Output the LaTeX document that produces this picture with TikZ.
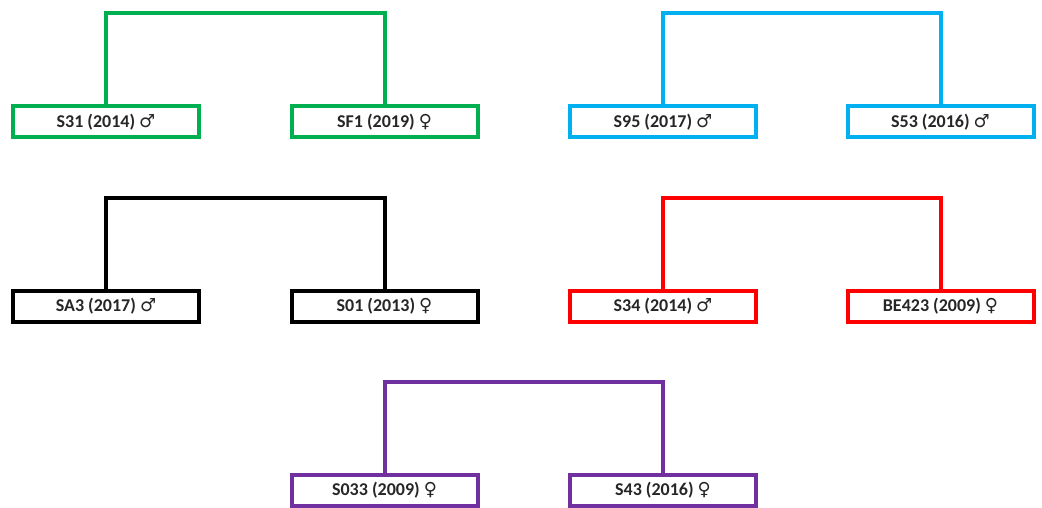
\documentclass[tikz,border=0pt]{standalone}
\usepackage{fontspec}
\setmainfont{Carlito}
\newfontfamily\symfont{DejaVu Sans}
\definecolor{pgreen}{HTML}{00B050}
\definecolor{pblue}{HTML}{00B0F0}
\definecolor{pred}{HTML}{FF0000}
\definecolor{ppurple}{HTML}{7030A0}
\definecolor{ink}{HTML}{262626}
\newcommand{\male}{{\symfont\mdseries\char"2642}}
\newcommand{\female}{{\symfont\mdseries\char"2640}}
\tikzset{
  animal/.style={draw=#1, line width=4pt, minimum width=186pt, minimum height=31pt,
    inner sep=0pt, font=\bfseries\fontsize{18}{21}\selectfont, text=ink},
  link/.style={draw=#1, line width=4pt, line join=miter}
}
\begin{document}
\begin{tikzpicture}[x=1pt, y=-1pt]
\useasboundingbox (0,0) rectangle (1042,508);
% pairs: row 1
\node[animal=pgreen] (s31) at (106,122) {S31 (2014) \male};
\node[animal=pgreen] (sf1) at (384.5,122) {SF1 (2019) \female};
\node[animal=pblue] (s95) at (663,122) {S95 (2017) \male};
\node[animal=pblue] (s53) at (940.5,122) {S53 (2016) \male};
% row 2
\node[animal=black] (sa3) at (106,306) {SA3 (2017) \male};
\node[animal=black] (s01) at (384.5,306) {S01 (2013) \female};
\node[animal=pred] (s34) at (663,306) {S34 (2014) \male};
\node[animal=pred] (be423) at (940.5,306) {BE423 (2009) \female};
% row 3
\node[animal=ppurple] (s033) at (384.5,490) {S033 (2009) \female};
\node[animal=ppurple] (s43) at (663,490) {S43 (2016) \female};
% heights of the bracket bars
\coordinate (g) at (0,13);
\coordinate (b) at (0,13);
\coordinate (k) at (0,198);
\coordinate (r) at (0,198);
\coordinate (p) at (0,382);
\draw[link=pgreen] (s31.north) -- (g -| s31.north) -- (g -| sf1.north) -- (sf1.north);
\draw[link=pblue] (s95.north) -- (b -| s95.north) -- (b -| s53.north) -- (s53.north);
\draw[link=black] (sa3.north) -- (k -| sa3.north) -- (k -| s01.north) -- (s01.north);
\draw[link=pred] (s34.north) -- (r -| s34.north) -- (r -| be423.north) -- (be423.north);
\draw[link=ppurple] (s033.north) -- (p -| s033.north) -- (p -| s43.north) -- (s43.north);
\end{tikzpicture}
\end{document}
